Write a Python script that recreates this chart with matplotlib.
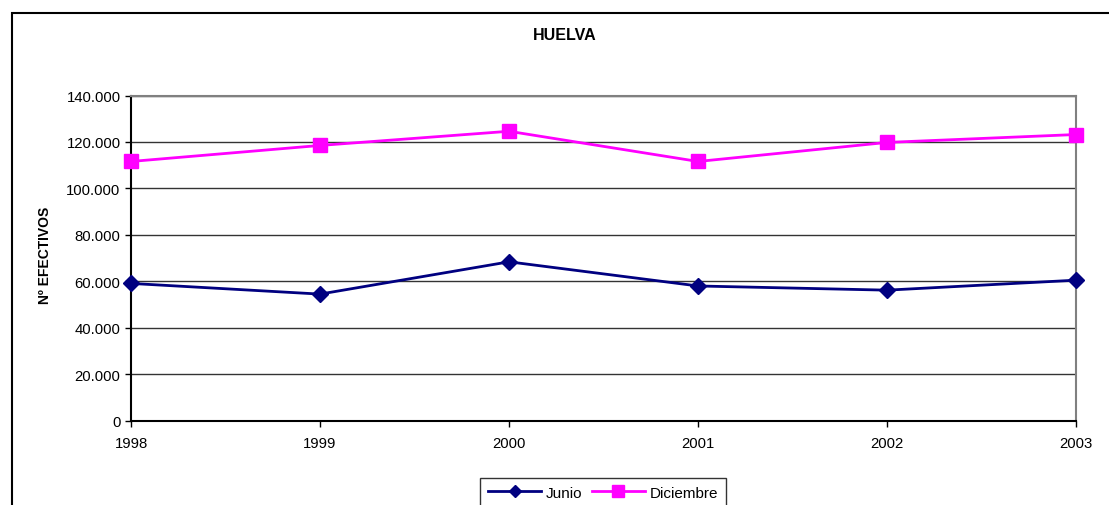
import matplotlib
matplotlib.use("Agg")
import matplotlib.pyplot as plt
from matplotlib.patches import Rectangle
from matplotlib.ticker import FuncFormatter

plt.rcParams['font.family'] = ['Liberation Sans', 'DejaVu Sans']

# datos
years = [1998, 1999, 2000, 2001, 2002, 2003]
junio = [59100, 54500, 68400, 58000, 56200, 60500]
diciembre = [111600, 118500, 124600, 111600, 119800, 123200]
yticks = [0, 20000, 40000, 60000, 80000, 100000, 120000, 140000]

fig = plt.figure(figsize=(11.09, 5.06), dpi=100)
ax = fig.add_axes([131 / 1109, 1 - 421.7 / 506, (1076 - 131) / 1109, (421.7 - 96.5) / 506])

ax.plot(years, junio, '-', color='#000080', linewidth=2, marker='D', markersize=8,
        label='Junio', clip_on=False, zorder=3)
ax.plot(years, diciembre, '-', color='#FF00FF', linewidth=2, marker='s', markersize=10.5,
        label='Diciembre', clip_on=False, zorder=3)

ax.set_xlim(years[0], years[-1])
ax.set_ylim(0, 140000)
ax.set_xticks(years)
ax.set_yticks(yticks)
ax.yaxis.set_major_formatter(FuncFormatter(lambda v, p: '0' if v == 0 else f'{int(v):,}'.replace(',', '.')))
ax.tick_params(axis='both', labelsize=10.7, direction='out', length=4, width=1, colors='black')
ax.tick_params(axis='x', pad=7)
ax.grid(axis='y', color='#333333', linewidth=1)
ax.set_axisbelow(True)

ax.spines['left'].set_color('black')
ax.spines['bottom'].set_color('black')
ax.spines['top'].set_color('#808080')
ax.spines['right'].set_color('#808080')
for s in ax.spines.values():
    s.set_linewidth(1.5)

fig.text(564.5 / 1109, 1 - 36 / 506, 'HUELVA', ha='center', va='center',
         fontsize=11.5, fontweight='bold')
fig.text(45 / 1109, 1 - 255 / 506, 'Nº EFECTIVOS', ha='center', va='center',
         rotation=90, fontsize=10, fontweight='bold')

leg = fig.legend(loc='upper center', bbox_to_anchor=(603 / 1109, 1 - 479 / 506), ncol=2,
                 fontsize=11, handlelength=3.5, columnspacing=0.6, handletextpad=0.3,
                 borderpad=0.5, borderaxespad=0, markerscale=0.8,
                 fancybox=False, frameon=True, edgecolor='black')
leg.get_frame().set_linewidth(1)

# marco exterior del grafico
fig.patches.append(Rectangle((12 / 1109, -0.1), 1.2, 1.1 - 14 / 506, transform=fig.transFigure,
                             fill=False, edgecolor='black', linewidth=1.5))

fig.savefig('out.png', dpi=100)
